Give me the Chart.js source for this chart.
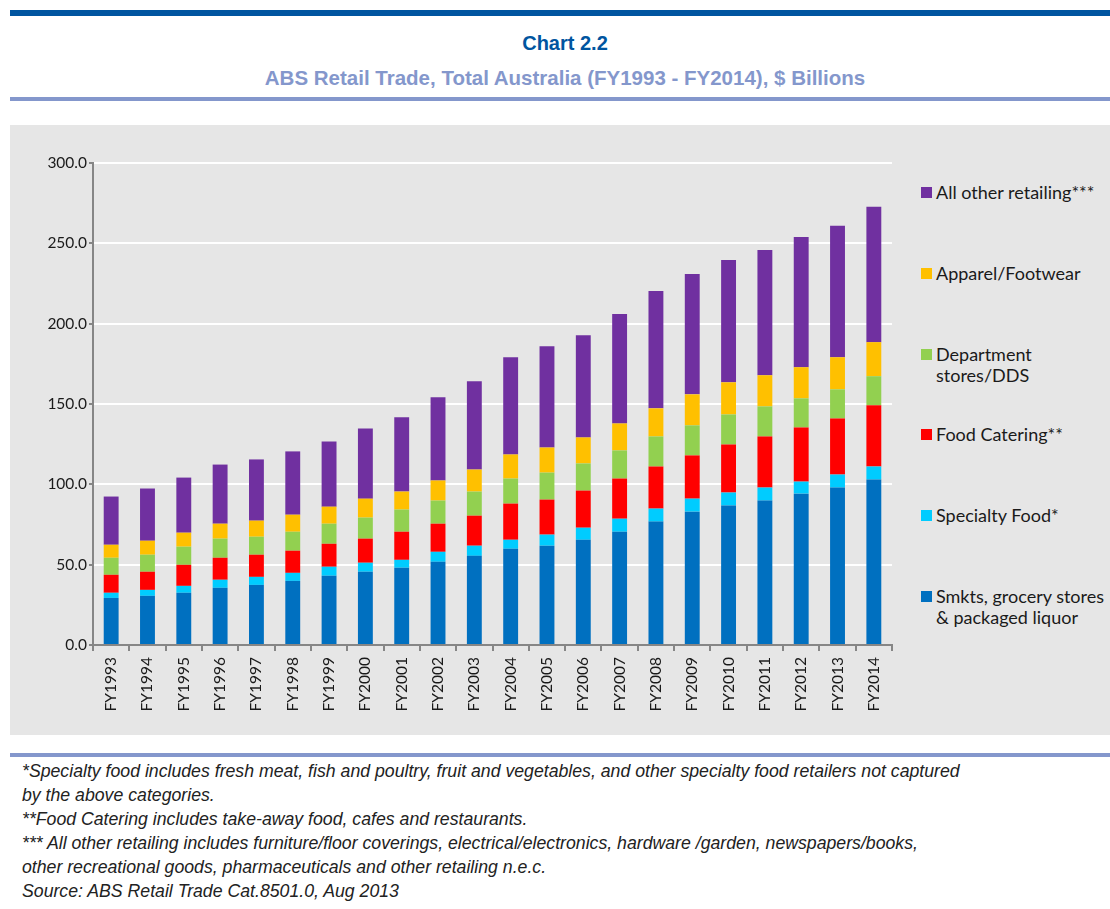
<!DOCTYPE html>
<html>
<head>
<meta charset="utf-8">
<script src="https://cdn.jsdelivr.net/npm/chart.js@4.4.0/dist/chart.umd.min.js"></script>
<style>
  body { margin: 0; width: 1110px; height: 909px; background: #fff; position: relative; overflow: hidden; font-family: "Liberation Sans", Arial, sans-serif; }
  .rule { position: absolute; left: 10px; right: 0; }
  #topRule { top: 10px; height: 6px; background: #0055a0; }
  #midRule { top: 97px; height: 4px; background: #8497cc; }
  #footRule { top: 753px; height: 4px; background: #8497cc; }
  #title { position: absolute; top: 32px; left: 0; width: 1130px; text-align: center; font-weight: bold; font-size: 20px; line-height: 23px; color: #0055a0; }
  #subtitle { position: absolute; top: 66px; left: 0; width: 1130px; text-align: center; font-weight: bold; font-size: 20.5px; line-height: 23px; color: #8497cc; }
  #panel { position: absolute; left: 10px; top: 125px; width: 1100px; height: 610px; background: #e6e6e6; }
  #chartBox { position: absolute; left: 0; top: 0; width: 900px; height: 610px; }
  #legend { position: absolute; left: 911px; top: 0; width: 199px; height: 610px; font-family: Lato, "Noto Sans", sans-serif; font-size: 18px; color: #1a1a1a; }
  .item { position: absolute; left: 0; display: flex; align-items: flex-start; line-height: 21px; white-space: nowrap; }
  .swatch { width: 11px; height: 11px; margin: 5px 4px 0 0; flex: none; }
  #notes { position: absolute; left: 22px; top: 759px; font-style: italic; font-size: 17.7px; color: #222; line-height: 24px; white-space: nowrap; }
</style>
</head>
<body>
<div class="rule" id="topRule"></div>
<div id="title">Chart 2.2</div>
<div id="subtitle">ABS Retail Trade, Total Australia (FY1993 - FY2014), $ Billions</div>
<div class="rule" id="midRule"></div>
<div id="panel">
  <div id="chartBox"><canvas id="retailChart"></canvas></div>
  <div id="legend"></div>
</div>
<div class="rule" id="footRule"></div>
<div id="notes">
  *Specialty food includes fresh meat, fish and poultry, fruit and vegetables, and other specialty food retailers not captured<br>
  by the above categories.<br>
  **Food Catering includes take-away food, cafes and restaurants.<br>
  *** All other retailing includes furniture/floor coverings, electrical/electronics, hardware /garden, newspapers/books,<br>
  other recreational goods, pharmaceuticals and other retailing n.e.c.<br>
  Source: ABS Retail Trade Cat.8501.0, Aug 2013
</div>
<script>
// Financial years
const years = ['FY1993', 'FY1994', 'FY1995', 'FY1996', 'FY1997', 'FY1998', 'FY1999', 'FY2000',
    'FY2001', 'FY2002', 'FY2003', 'FY2004', 'FY2005', 'FY2006', 'FY2007', 'FY2008',
    'FY2009', 'FY2010', 'FY2011', 'FY2012', 'FY2013', 'FY2014'];

// $ billions (bottom to top of each stack)
const smkts = [29.3, 30.6, 32.5, 35.6, 37.4, 39.9, 43.1, 45.6, 48.1, 51.8, 55.5, 59.9,
    61.8, 65.5, 70.5, 76.8, 83.0, 86.8, 89.9, 94.2, 98.0, 103.0];
const specialtyFood = [3.2, 3.7, 4.3, 5.0, 5.0, 5.0, 5.6, 5.6, 4.9, 6.2, 6.3, 5.6,
    6.9, 7.5, 8.1, 8.1, 8.1, 8.1, 8.1, 7.5, 8.1, 8.1];
const foodCatering = [11.2, 11.3, 13.1, 13.7, 13.8, 13.8, 14.3, 15.0, 17.5, 17.5, 18.7, 22.5,
    21.8, 23.1, 25.0, 26.2, 26.9, 29.9, 31.8, 33.7, 34.9, 38.1];
const deptStores = [10.6, 10.6, 11.3, 11.9, 11.2, 11.8, 12.5, 13.1, 13.8, 14.4, 15.0, 15.6,
    16.8, 16.9, 17.5, 18.7, 18.7, 18.7, 18.7, 18.1, 18.1, 18.1];
const apparel = [8.1, 8.7, 8.7, 9.3, 10.0, 10.6, 10.6, 11.8, 11.2, 12.5, 13.7, 15.0,
    15.6, 16.2, 16.8, 17.5, 19.3, 20.0, 19.4, 19.4, 20.0, 21.2];
const otherRetail = [30.0, 32.5, 34.3, 36.8, 38.1, 39.4, 40.6, 43.7, 46.2, 51.8, 54.9, 60.5,
    63.1, 63.6, 68.1, 73.0, 74.9, 76.2, 78.0, 81.1, 81.8, 84.2];

const yTicks = [0, 50, 100, 150, 200, 250, 300];

const series = [
    { label: 'Smkts, grocery stores\n& packaged liquor', data: smkts, color: '#0070c0' },
    { label: 'Specialty Food*', data: specialtyFood, color: '#00ccff' },
    { label: 'Food Catering**', data: foodCatering, color: '#ff0000' },
    { label: 'Department\nstores/DDS', data: deptStores, color: '#92d050' },
    { label: 'Apparel/Footwear', data: apparel, color: '#ffc000' },
    { label: 'All other retailing***', data: otherRetail, color: '#7030a0' }
];

const tickFont = { family: 'Lato, "Noto Sans", sans-serif', size: 15.5 };
const axisGray = '#868686';

new Chart(document.getElementById('retailChart'), {
    type: 'bar',
    data: {
        labels: years,
        datasets: series.map(s => ({
            label: s.label,
            data: s.data,
            backgroundColor: s.color,
            borderWidth: 0,
            barPercentage: 0.41,
            categoryPercentage: 1
        }))
    },
    options: {
        responsive: true,
        maintainAspectRatio: false,
        animation: false,
        layout: { padding: { top: 38, right: 18, left: 0, bottom: 0 } },
        plugins: {
            legend: { display: false },
            tooltip: { enabled: false }
        },
        scales: {
            x: {
                stacked: true,
                grid: { drawOnChartArea: false, tickLength: 6, tickColor: axisGray, lineWidth: 2 },
                border: { color: axisGray, width: 2 },
                ticks: { color: '#1a1a1a', font: tickFont, minRotation: 90, maxRotation: 90, padding: 6, autoSkip: false },
                afterFit: (scale) => { scale.height = 90; }
            },
            y: {
                stacked: true,
                min: 0,
                max: 300,
                afterBuildTicks: (scale) => { scale.ticks = yTicks.map(v => ({ value: v })); },
                grid: { color: '#ffffff', lineWidth: 2, tickLength: 4, tickColor: axisGray },
                border: { color: axisGray, width: 2 },
                ticks: { color: '#1a1a1a', font: tickFont, padding: 2, callback: (v) => v.toFixed(1) },
                afterFit: (scale) => { scale.width = 83; }
            }
        }
    }
});

// Legend, top to bottom in reverse stack order
const legendEl = document.getElementById('legend');
series.slice().reverse().forEach((s, i) => {
    const item = document.createElement('div');
    item.className = 'item';
    item.style.top = (57 + i * 80.8) + 'px';
    item.innerHTML = '<div class="swatch" style="background:' + s.color + '"></div><div>' +
        s.label.replace('&', '&amp;').replace('\n', '<br>') + '</div>';
    legendEl.appendChild(item);
});
</script>
</body>
</html>
